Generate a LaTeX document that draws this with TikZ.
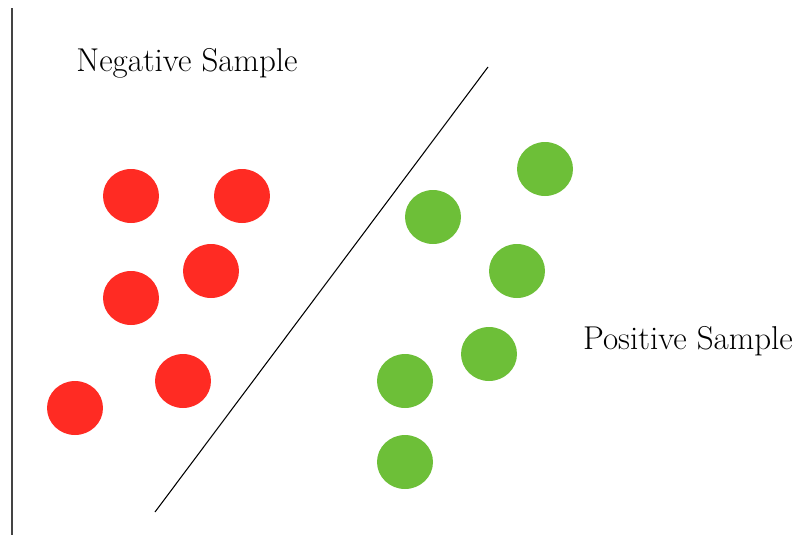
\documentclass[tikz,border=0pt]{standalone}
\usepackage{tikz}
\usetikzlibrary{positioning,shapes.geometric}
\usepackage{xcolor}
\definecolor{negred}{HTML}{FF2B23}
\definecolor{posgreen}{HTML}{6DBF38}
\definecolor{axisgray}{HTML}{444444}

\tikzset{
  negdot/.style={ellipse,fill=negred,minimum width=1.12cm,minimum height=1.08cm,inner sep=0pt},
  posdot/.style={ellipse,fill=posgreen,minimum width=1.12cm,minimum height=1.08cm,inner sep=0pt},
  classlabel/.style={font=\fontsize{18.8}{22}\selectfont}
}

\begin{document}
\begin{tikzpicture}[x=0.02cm,y=-0.02cm]
  \useasboundingbox (0,0) rectangle (797,535);

  % axis on the left
  \coordinate (axtop) at (12,8);
  \coordinate (axbot) at (12,535);
  \draw[axisgray,line width=0.6pt] (axtop) -- (axbot);

  % labels
  \node[classlabel] (neglabel) at (187,63) {Negative Sample};
  \node[classlabel] (poslabel) at (688,341) {Positive Sample};

  % negative samples
  \node[negdot] (n1) at (131,196) {};
  \node[negdot] (n2) at (242,196) {};
  \node[negdot] (n3) at (211,271) {};
  \node[negdot] (n4) at (131,298) {};
  \node[negdot] (n5) at (183,381) {};
  \node[negdot] (n6) at (75,408) {};

  % positive samples
  \node[posdot] (p1) at (545,169) {};
  \node[posdot] (p2) at (433,217) {};
  \node[posdot] (p3) at (517,271) {};
  \node[posdot] (p4) at (489,354) {};
  \node[posdot] (p5) at (405,381) {};
  \node[posdot] (p6) at (405,462) {};

  % separating line
  \coordinate (sepbot) at (155,512);
  \coordinate (septop) at (488,67);
  \draw[line width=0.6pt] (sepbot) -- (septop);
\end{tikzpicture}
\end{document}
